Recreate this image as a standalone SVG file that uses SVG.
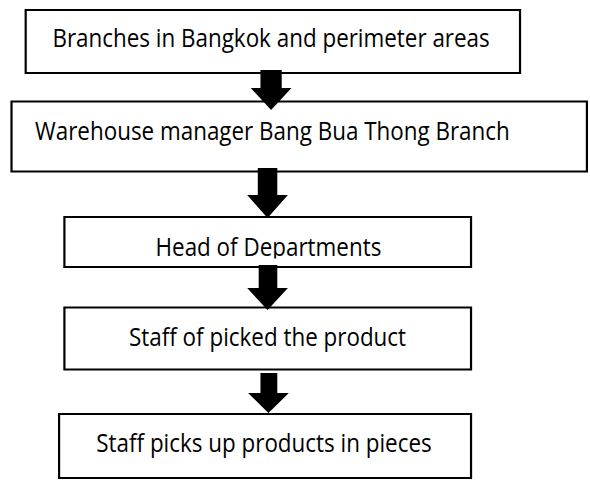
<svg xmlns="http://www.w3.org/2000/svg" width="590" height="480" viewBox="0 0 590 480">
<style>
.box{fill:#fff;stroke:#000;stroke-width:2.2;vector-effect:non-scaling-stroke}
.lbl{font-family:"Open Sans","Noto Sans",sans-serif;font-size:25.3px;fill:#000;text-anchor:middle}
.arr{fill:#000;stroke:none}
</style>
<defs>
<clipPath id="clip3"><rect x="60" y="210" width="480" height="48.5"/></clipPath>
</defs>
<rect width="590" height="480" fill="#fff"/>
<g transform="scale(0.8859 1)">
<g id="n1">
<rect class="box" x="29" y="10" width="558" height="63"/>
<text class="lbl" x="306" y="46.7">Branches in Bangkok and perimeter areas</text>
</g>
<g id="n2">
<rect class="box" x="13" y="101.5" width="649.5" height="70"/>
<text class="lbl" x="307.5" y="140">Warehouse manager Bang Bua Thong Branch</text>
</g>
<g id="n3">
<rect class="box" x="72.7" y="217" width="459" height="50"/>
<text class="lbl" x="303" y="255.7" clip-path="url(#clip3)">Head of Departments</text>
</g>
<g id="n4">
<rect class="box" x="72.7" y="307.5" width="459" height="62"/>
<text class="lbl" x="302" y="345.7">Staff of picked the product</text>
</g>
<g id="n5">
<rect class="box" x="66.7" y="414" width="465" height="64"/>
<text class="lbl" x="298" y="451.7">Staff picks up products in pieces</text>
</g>
<g id="connectors">
<polygon class="arr" points="294,70 318,70 318,88 329,88 306,110 283,88 294,88"/>
<polygon class="arr" points="291,168 313,168 313,195 325,195 302,218 279,195 291,195"/>
<polygon class="arr" points="292,265 313,265 313,288 325,288 302,310 279,288 292,288"/>
<polygon class="arr" points="294,373 313,373 313,393 326,393 303,413 280,393 294,393"/>
</g>
</g>
</svg>
